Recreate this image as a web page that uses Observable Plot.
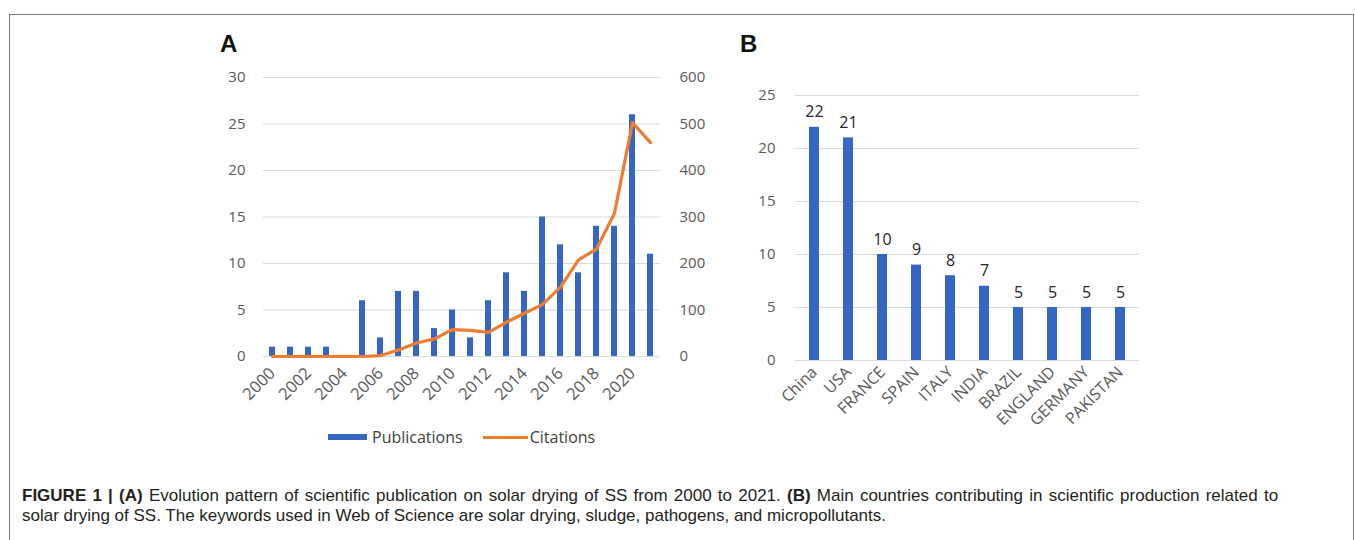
<!DOCTYPE html>
<html>
<head>
<meta charset="utf-8">
<script src="https://cdn.jsdelivr.net/npm/d3@7"></script>
<script src="https://cdn.jsdelivr.net/npm/@observablehq/plot@0.6"></script>
<style>
  html, body { margin: 0; padding: 0; background: #fff; }
  body { width: 1355px; height: 540px; position: relative; overflow: hidden; font-family: "Open Sans", sans-serif; }
  #frame { position: absolute; left: 9px; top: 14px; width: 1343px; height: 600px; border: 1.5px solid #777; border-bottom: none; }
  .panel { position: absolute; }
  .letter { position: absolute; font-family: "Liberation Sans", Arial, sans-serif; font-weight: bold; font-size: 24px; color: #111; }
  .legend { position: absolute; top: 426px; left: 328px; display: flex; align-items: center; font-size: 16px; color: #404040; }
  .sw-bar { width: 39px; height: 6px; background: #3566c4; margin-right: 5px; }
  .sw-line { width: 45px; height: 3px; background: #ed7d31; margin-left: 20px; margin-right: 2px; }
  #caption { position: absolute; left: 22px; top: 486px; width: 1320px; font-family: "Liberation Sans", Arial, sans-serif; font-size: 17px; line-height: 20px; color: #231f20; white-space: nowrap; }
  #caption .l1 { word-spacing: 1.5px; }
</style>
</head>
<body>
<div id="frame"></div>
<div class="letter" style="left:220px; top:30px;">A</div>
<div class="letter" style="left:740px; top:30px;">B</div>
<div id="panelA" class="panel" style="left:200px; top:60px;"></div>
<div id="panelB" class="panel" style="left:720px; top:60px;"></div>
<div class="legend"><div class="sw-bar"></div><span>Publications</span><div class="sw-line"></div><span>Citations</span></div>
<div id="caption"><span class="l1"><b>FIGURE 1 | (A)</b> Evolution pattern of scientific publication on solar drying of SS from 2000 to 2021. <b>(B)</b> Main countries contributing in scientific production related to</span><br>solar drying of SS. The keywords used in Web of Science are solar drying, sludge, pathogens, and micropollutants.</div>
<script>
// ---- Panel A data ----
const years = [2000,2001,2002,2003,2004,2005,2006,2007,2008,2009,2010,2011,2012,2013,2014,2015,2016,2017,2018,2019,2020,2021];
const publications = [1,1,1,1,0,6,2,7,7,3,5,2,6,9,7,15,12,9,14,14,26,11];
const citations = [0,0,0,0,0,0,2,14,29,38,58,56,52,74,93,112,149,208,231,308,503,460];
const yearTicks = [2000,2002,2004,2006,2008,2010,2012,2014,2016,2018,2020];
const leftTicks = [0,5,10,15,20,25,30];
const citationScale = 20; // right axis 0–600 maps onto left axis 0–30

// ---- Panel B data ----
const countries = ["China","USA","FRANCE","SPAIN","ITALY","INDIA","BRAZIL","ENGLAND","GERMANY","PAKISTAN"];
const countryCounts = [22,21,10,9,8,7,5,5,5,5];
const bTicks = [0,5,10,15,20,25];

const blue = "#3566c4";
const orange = "#ed7d31";
const grid = "#d9d9d9";
const axisStyle = {fontFamily: "Open Sans, sans-serif", fontSize: "15px", color: "#595959", background: "transparent", overflow: "visible"};

const dataA = years.map((y, i) => ({year: y, pubs: publications[i], cit: citations[i]}));

const chartA = Plot.plot({
  width: 520, height: 360,
  marginLeft: 63, marginRight: 60, marginTop: 17, marginBottom: 64,
  style: axisStyle,
  x: {type: "band", domain: years, paddingInner: 0.66, paddingOuter: 0.3},
  y: {domain: [0, 30]},
  marks: [
    Plot.gridY(leftTicks, {stroke: grid, strokeOpacity: 1}),
    Plot.barY(dataA, {x: "year", y: "pubs", fill: blue}),
    Plot.lineY(dataA, {x: "year", y: d => d.cit / citationScale, stroke: orange, strokeWidth: 3.2, strokeLinejoin: "round", strokeLinecap: "round"}),
    Plot.axisY(leftTicks, {anchor: "left", tickSize: 0, tickPadding: 18, label: null}),
    Plot.axisY(leftTicks, {anchor: "right", tickSize: 0, tickPadding: 19, label: null, textAnchor: "start", tickFormat: d => d * citationScale}),
    Plot.axisX(yearTicks, {tickSize: 0, tickRotate: -45, tickPadding: 14, label: null, fontSize: 16.5, tickFormat: d => String(d)})
  ]
});
document.getElementById("panelA").appendChild(chartA);

const dataB = countries.map((c, i) => ({country: c, n: countryCounts[i]}));

const chartB = Plot.plot({
  width: 440, height: 380,
  marginLeft: 75, marginRight: 21, marginTop: 35, marginBottom: 80,
  style: axisStyle,
  x: {type: "band", domain: countries, paddingInner: 0.7, paddingOuter: 0.28},
  y: {domain: [0, 25]},
  marks: [
    Plot.gridY(bTicks, {stroke: grid, strokeOpacity: 1}),
    Plot.barY(dataB, {x: "country", y: "n", fill: blue}),
    Plot.text(dataB, {x: "country", y: "n", text: d => String(d.n), dy: -10, lineAnchor: "bottom", fill: "#262626", fontSize: 16}),
    Plot.axisY(bTicks, {anchor: "left", tickSize: 0, tickPadding: 20, label: null}),
    Plot.axisX(countries, {tickSize: 0, tickRotate: -45, tickPadding: 9, label: null, fontSize: 16})
  ]
});
document.getElementById("panelB").appendChild(chartB);
</script>
</body>
</html>
